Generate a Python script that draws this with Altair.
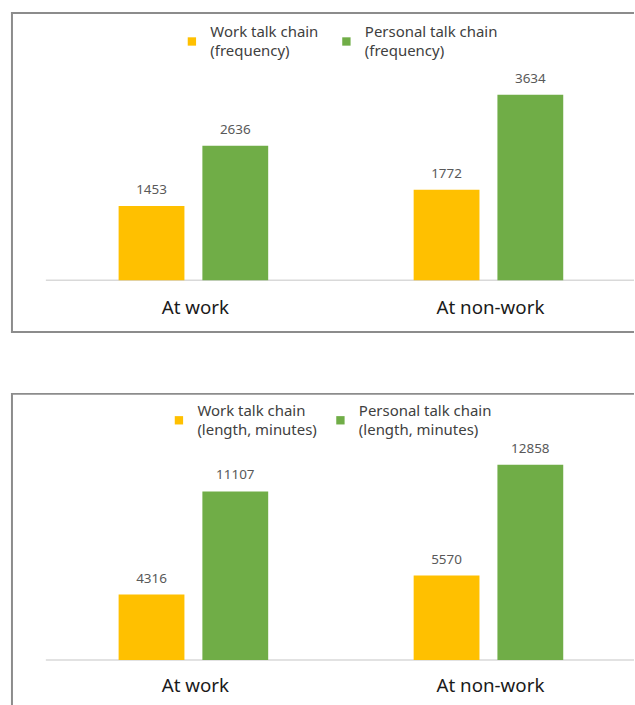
import altair as alt
import pandas as pd

categories = ["At work", "At non-work"]
freq_series = ["Work talk chain|(frequency)", "Personal talk chain|(frequency)"]
freq_work = [1453, 1772]
freq_personal = [2636, 3634]
len_series = ["Work talk chain|(length, minutes)", "Personal talk chain|(length, minutes)"]
len_work = [4316, 5570]
len_personal = [11107, 12858]
colors = ["#FFC000", "#70AD47"]

FONT = "Noto Sans"
W = 625


def make_df(series, a, b):
    rows = []
    for i, c in enumerate(categories):
        rows.append({"cat": c, "series": series[0], "value": a[i]})
        rows.append({"cat": c, "series": series[1], "value": b[i]})
    return pd.DataFrame(rows)


def panel(df, series, ymax, base_px, H, label_y, legend_x, legend_y, col_pad, bottom_frame):
    xs = alt.Scale(domain=categories, range=[35, 627], paddingInner=0.493, paddingOuter=0.2466)
    ys = alt.Scale(domain=[0, ymax], range=[base_px, 0])
    base = alt.Chart(df)
    bars = base.mark_bar().encode(
        x=alt.X("cat:N", scale=xs, axis=None, sort=categories),
        xOffset=alt.XOffset("series:N", sort=series, scale=alt.Scale(paddingInner=0.2143, paddingOuter=0)),
        y=alt.Y("value:Q", scale=ys, axis=None),
        color=alt.Color(
            "series:N",
            sort=series,
            scale=alt.Scale(domain=series, range=colors),
            legend=alt.Legend(
                title=None,
                orient="none",
                legendX=legend_x,
                legendY=legend_y,
                direction="horizontal",
                symbolType="square",
                symbolSize=70,
                labelFont=FONT,
                labelFontSize=15,
                labelColor="#404040",
                labelExpr="split(datum.label, '|')",
                labelOffset=11,
                columnPadding=col_pad,
                labelLimit=200,
            ),
        ),
    )
    labels = base.mark_text(font=FONT, fontSize=13.5, color="#595959", baseline="alphabetic", dy=-12).encode(
        x=alt.X("cat:N", scale=xs, axis=None, sort=categories),
        xOffset=alt.XOffset("series:N", sort=series),
        y=alt.Y("value:Q", scale=ys, axis=None),
        text=alt.Text("value:Q", format="d"),
    )
    cat_df = pd.DataFrame({"cat": categories})
    cat_labels = alt.Chart(cat_df).mark_text(font=FONT, fontSize=18.8, color="#1a1a1a", baseline="middle", dx=2).encode(
        x=alt.X("cat:N", scale=xs, axis=None, sort=categories),
        y=alt.value(label_y),
        text="cat:N",
    )
    baseline = alt.Chart(cat_df.head(1)).mark_rule(color="#d9d9d9", strokeWidth=1.5).encode(
        x=alt.value(35), x2=alt.value(W), y=alt.value(base_px)
    )
    frame_c = "#8c8c8c"
    left = alt.Chart(cat_df.head(1)).mark_rule(color=frame_c, strokeWidth=2).encode(
        x=alt.value(1), y=alt.value(0), y2=alt.value(H)
    )
    top = alt.Chart(cat_df.head(1)).mark_rule(color=frame_c, strokeWidth=2).encode(
        x=alt.value(0), x2=alt.value(W), y=alt.value(1)
    )
    layers = [baseline, bars, labels, cat_labels, left, top]
    if bottom_frame:
        bot = alt.Chart(cat_df.head(1)).mark_rule(color=frame_c, strokeWidth=2).encode(
            x=alt.value(0), x2=alt.value(W), y=alt.value(H - 1)
        )
        layers.append(bot)
    return alt.layer(*layers).properties(width=W, height=H)


p1 = panel(make_df(freq_series, freq_work, freq_personal), freq_series, 5254, 269, 322, 297, 174, 22, 20, True)
p2 = panel(make_df(len_series, len_work, len_personal), len_series, 17597, 268, 315, 294, 161, 20, 16, False)

chart = (
    alt.vconcat(p1, p2, spacing=58)
    .resolve_scale(color="independent", x="independent", y="independent", xOffset="independent")
    .resolve_legend(color="independent")
    .properties(padding={"left": 10, "top": 10, "right": 0, "bottom": 0}, background="white")
    .configure(style={"guide-label": {"lineHeight": 19, "dy": -9.5}})
    .configure_view(stroke=None)
)

chart.save("out.html", embed_options={"renderer": "svg", "actions": False})
